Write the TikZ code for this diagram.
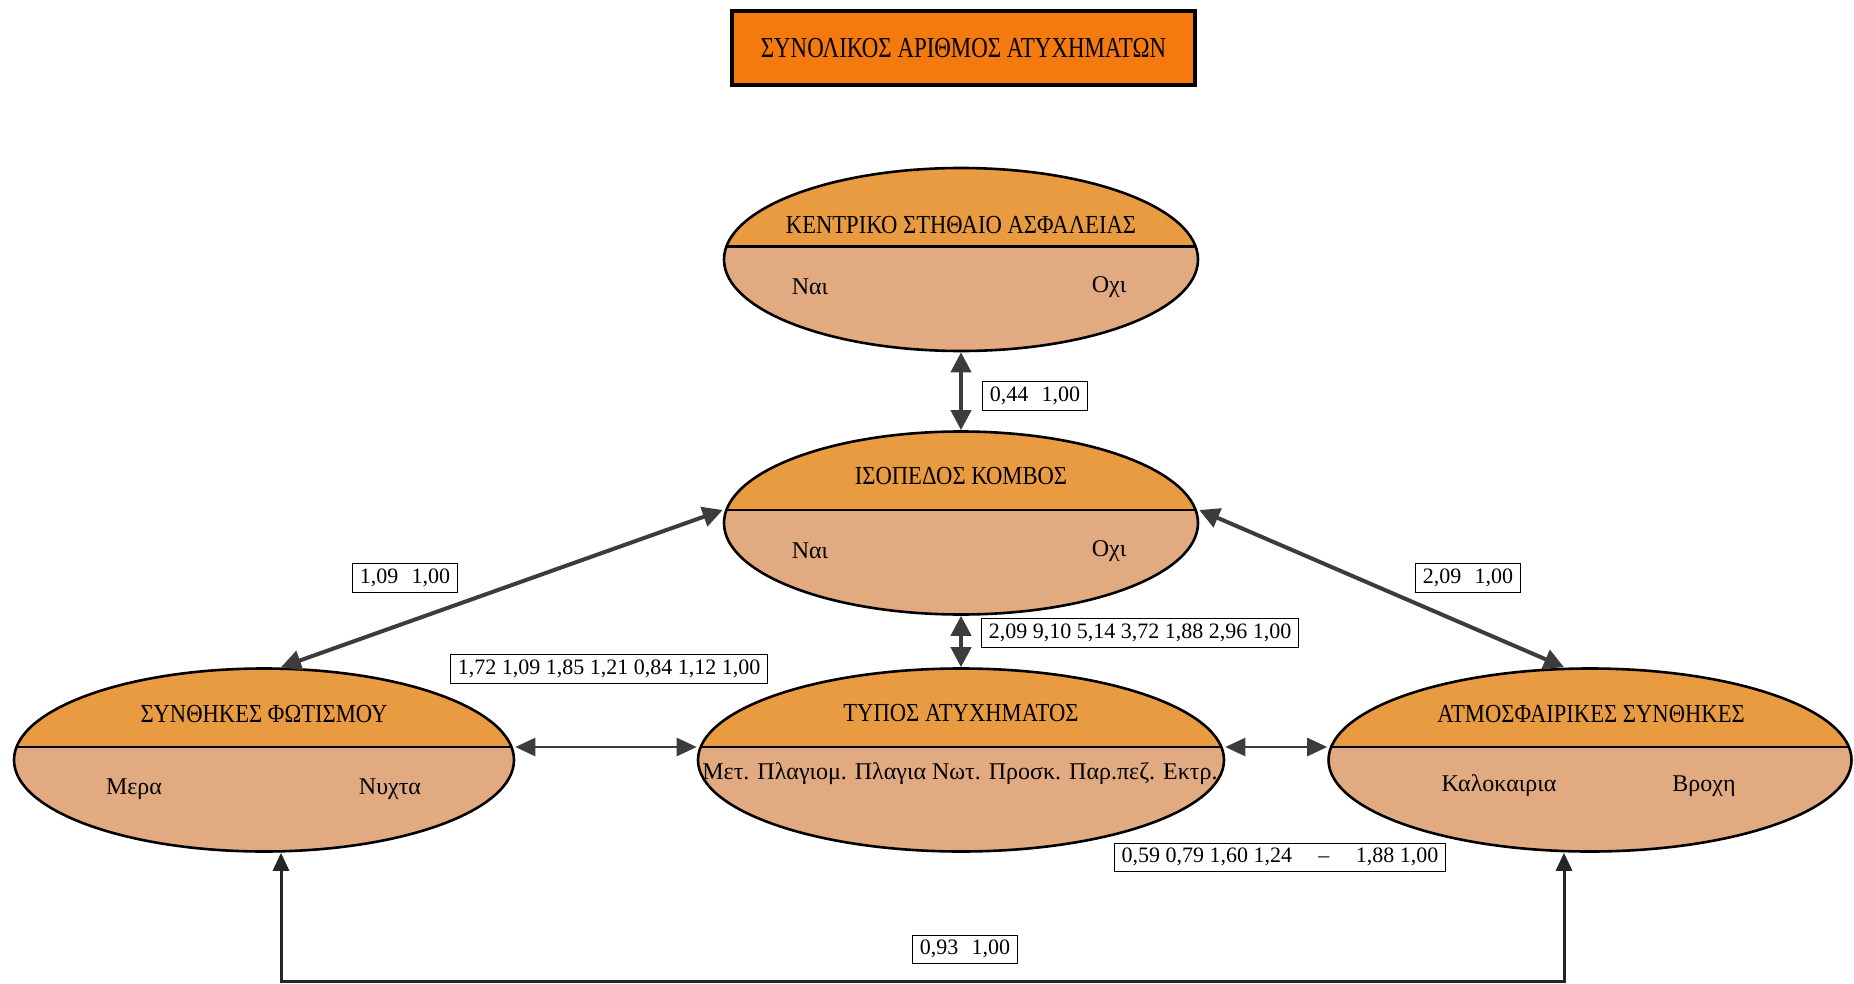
\documentclass[tikz,border=0pt]{standalone}
\usepackage{fontspec}
\setmainfont{Liberation Serif}
\newfontfamily\condfont{Liberation Serif}[FakeStretch=0.87]
\newfontfamily\narrowfont{Liberation Serif}[FakeStretch=0.79]
\usetikzlibrary{shapes.geometric,arrows.meta}

\definecolor{totalfill}{HTML}{F47A10}
\definecolor{ellhead}{HTML}{E89B40}
\definecolor{ellbody}{HTML}{E2AA80}
\definecolor{linkgray}{HTML}{3C3C3C}

\tikzset{
  totalbox/.style={draw=black, line width=4pt, fill=totalfill, inner sep=0pt,
    minimum width=463pt, minimum height=74pt,
    font=\narrowfont\fontsize{29}{34}\selectfont},
  varnode/.style={ellipse, draw=black, line width=2.6pt, fill=ellbody, inner sep=0pt,
    minimum height=183pt,
    path picture={
      \fill[ellhead] (path picture bounding box.north west) rectangle
        ([yshift=13pt]path picture bounding box.east);
      \draw[line width=2.2pt] ([yshift=13pt]path picture bounding box.west) --
        ([yshift=13pt]path picture bounding box.east);
    }},
  heading/.style={font=\condfont\fontsize{26}{31}\selectfont, inner sep=0pt},
  level/.style={font=\fontsize{24}{29}\selectfont, inner sep=0pt},
  valbox/.style={draw=black, line width=1pt, fill=white, inner xsep=7pt, inner ysep=5pt,
    font=\fontsize{22}{26}\selectfont},
  link/.style={draw=linkgray, line width=4pt, {Triangle[length=20pt,width=20pt]}-{Triangle[length=20pt,width=20pt]}},
  sidelink/.style={draw=linkgray, line width=2.5pt, {Triangle[length=20pt,width=18pt]}-{Triangle[length=20pt,width=18pt]}},
  looplink/.style={draw=black!85, line width=3pt, {Triangle[length=18pt,width=16pt]}-{Triangle[length=18pt,width=16pt]}},
}

\begin{document}
\begin{tikzpicture}[x=1pt, y=-1pt]
  \useasboundingbox (0,0) rectangle (1854,984);
  \fill[white] (0,0) rectangle (1854,984);

  % overall title
  \node[totalbox] (total) at (963.5,48.5) {ΣΥΝΟΛΙΚΟΣ ΑΡΙΘΜΟΣ ΑΤΥΧΗΜΑΤΩΝ};

  % variables
  \node[varnode, minimum width=474pt] (A) at (961,259.5) {};
  \node[varnode, minimum width=474pt] (B) at (961,523) {};
  \node[varnode, minimum width=500pt] (C) at (264,760) {};
  \node[varnode, minimum width=526pt] (D) at (961,760) {};
  \node[varnode, minimum width=523pt] (E) at (1590,760) {};

  % variable names and levels
  \node[heading] (At) at (961,225) {ΚΕΝΤΡΙΚΟ ΣΤΗΘΑΙΟ ΑΣΦΑΛΕΙΑΣ};
  \node[level] (A1) at (810,287) {Ναι};
  \node[level] (A2) at (1109,287) {Οχι};

  \node[heading] (Bt) at (961,476) {ΙΣΟΠΕΔΟΣ ΚΟΜΒΟΣ};
  \node[level] (B1) at (810,551) {Ναι};
  \node[level] (B2) at (1109,551) {Οχι};

  \node[heading] (Ct) at (264,714) {ΣΥΝΘΗΚΕΣ ΦΩΤΙΣΜΟΥ};
  \node[level] (C1) at (134,789) {Μερα};
  \node[level] (C2) at (390,789) {Νυχτα};

  \node[heading] (Dt) at (961,713) {ΤΥΠΟΣ ΑΤΥΧΗΜΑΤΟΣ};
  \node[level] (D1) at (960,774) {Μετ. Πλαγιομ. Πλαγια Νωτ. Προσκ. Παρ.πεζ. Εκτρ.};

  \node[heading] (Et) at (1591,714) {ΑΤΜΟΣΦΑΙΡΙΚΕΣ ΣΥΝΘΗΚΕΣ};
  \node[level] (E1) at (1499,786) {Καλοκαιρια};
  \node[level] (E2) at (1704,786) {Βροχη};

  % connectors
  \coordinate (low) at (0,981);
  \draw[link] (A.south) -- (B.north);
  \draw[link] (B.south) -- (D.north);
  \draw[link] ([yshift=13pt]B.west) -- ([xshift=17pt]C.north);
  \draw[link] ([yshift=13pt]B.east) -- ([xshift=-26pt]E.north);
  \draw[sidelink] ([yshift=13pt]C.east) -- ([yshift=13pt]D.west);
  \draw[sidelink] ([yshift=13pt]D.east) -- ([yshift=13pt]E.west);
  \draw[looplink] ([xshift=17pt]C.south) -- ([xshift=17pt]C.south |- low)
    -| ([xshift=-26pt]E.south);

  % coefficients
  \node[valbox] (vAB) at (1035,396) {0,44\hspace{0.6em}1,00};
  \node[valbox] (vBC) at (405,578) {1,09\hspace{0.6em}1,00};
  \node[valbox] (vBE) at (1468,578) {2,09\hspace{0.6em}1,00};
  \node[valbox] (vBD) at (1140,633) {2,09 9,10 5,14 3,72 1,88 2,96 1,00};
  \node[valbox] (vCD) at (609,669) {1,72 1,09 1,85 1,21 0,84 1,12 1,00};
  \node[valbox] (vDE) at (1280,857) {0,59 0,79 1,60 1,24\hspace{1.2em}–\hspace{1.2em}1,88 1,00};
  \node[valbox] (vCE) at (965,949) {0,93\hspace{0.6em}1,00};
\end{tikzpicture}
\end{document}
